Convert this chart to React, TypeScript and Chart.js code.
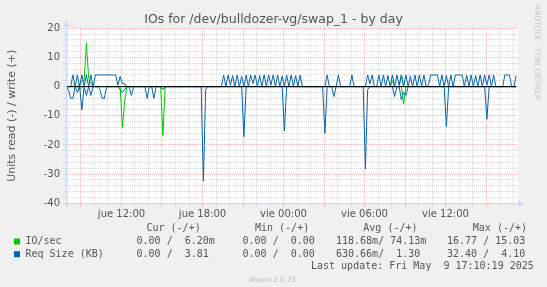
import React, { useEffect, useRef } from 'react';
import { Chart, registerables } from 'chart.js';

Chart.register(...registerables);

// ---- time grid (hours since jue 00:00), one sample every 10 minutes ----
const START_HOUR = 7.9;
const STEP_HOURS = 1 / 6;
const X_MIN = 7.889;
const X_MAX = 41.296;

// ---- series values (read drawn negative, write positive) ----
const IO_WRITE = [
  0, 0, 0, 0, 0, 0, 1, 2, 2, 15.03,
  3, 1, 0, 0, 0, 0, 0, 0, 0, 0,
  0, 0, 0, 0, 0, 0, 0, 0, 0, 0,
  0, 0, 0, 0, 0, 0, 0, 0, 0, 0,
  0, 0, 0, 0, 0, 0, 0, 0, 0, 0,
  0, 0, 0, 0, 0, 0, 0, 0, 0, 0,
  0, 0, 0, 0, 0, 0, 0, 0, 0, 0,
  0, 0, 0, 0, 0, 0, 0, 0, 0, 0,
  0, 0, 0, 0, 0, 0, 0, 0, 0, 0,
  0, 0, 0, 0, 0, 0, 0, 0, 0, 0,
  0, 0, 0, 0, 0, 0, 0, 0, 0, 0,
  0, 0, 0, 0, 0, 0, 0, 0, 0, 0,
  0, 0, 0, 0, 0, 0, 0, 0, 0, 0,
  0, 0, 0, 0, 0, 0, 0, 0, 0, 0,
  0, 0, 0, 0, 0, 2, 0, 0, 0, 4,
  0, 0, 0, 0, 0, 0, 0, 0, 0, 0,
  0, 0, 0, 0, 0, 0, 0, 0, 0, 0,
  0, 0, 0, 0, 0, 0, 0, 0, 0, 0,
  0, 0, 0, 0, 0, 0, 0, 0, 0, 0,
  0, 0, 0, 0, 0, 0, 0, 0, 0, 0,
  0,
];

const IO_READ = [
  0, 0, 0, 0, 0, 0, -1, 0, 0, 0,
  0, 0, 0, 0, 0, 0, 0, 0, 0, 0,
  0, 0, 0, 0, 0, -14, -5, 0, 0, 0,
  0, 0, 0, 0, 0, 0, 0, 0, 0, 0,
  0, 0, 0, -16.77, 0, 0, 0, 0, 0, 0,
  0, 0, 0, 0, 0, 0, 0, 0, 0, 0,
  0, 0, 0, 0, 0, 0, 0, 0, 0, 0,
  0, 0, 0, 0, 0, 0, 0, 0, 0, 0,
  0, 0, 0, 0, 0, 0, 0, 0, 0, 0,
  0, 0, 0, 0, 0, 0, 0, 0, 0, 0,
  0, 0, 0, 0, 0, 0, 0, 0, 0, 0,
  0, 0, 0, 0, 0, 0, 0, 0, 0, 0,
  0, 0, 0, 0, 0, 0, 0, 0, 0, 0,
  0, 0, 0, 0, 0, 0, 0, 0, 0, 0,
  0, 0, 0, 0, 0, 0, 0, 0, 0, 0,
  -6, 0, 0, 0, 0, 0, 0, 0, 0, 0,
  0, 0, 0, 0, 0, 0, 0, 0, 0, 0,
  0, 0, 0, 0, 0, 0, 0, 0, 0, 0,
  0, 0, 0, 0, 0, 0, 0, 0, 0, 0,
  0, 0, 0, 0, 0, 0, 0, 0, 0, 0,
  0,
];

const REQ_WRITE = [
  0, 0, 0, 4, 0, 4, 0, 4, 0, 4,
  0, 4, 0, 4, 4, 4, 4, 4, 4, 4,
  4, 4, 4, 0.5, 3.5, 1, 1, 0, 0, 0,
  0, 0, 0, 0, 0, 0, 0, 0, 0, 0,
  0, 0, 0, 0, 0, 0, 0, 0, 0, 0,
  0, 0, 0, 0, 0, 0, 0, 0, 0, 0,
  0, 0, 0, 0, 0, 0, 0, 0, 0, 0,
  4, 0, 4, 0.5, 3.8, 0, 4, 0, 3.5, 0,
  4, 0, 4, 1, 4, 0, 3.8, 0, 4, 0,
  4, 0.5, 4, 0, 4, 0, 3.6, 0, 4, 0,
  4, 0, 3.8, 0, 4, 0, 0, 0, 0, 0,
  0, 0, 0, 0, 0, 0, 4, 0, 0, 0,
  0, 4, 0, 0, 0, 0, 0, 4, 0, 0,
  0, 0, 0, 0, 4, 1, 4, 0, 0, 4,
  0, 4, 0, 3.8, 0, 4, 0, 4, 0.5, 4,
  0, 4, 0, 3.6, 0, 4, 0, 4, 0, 4,
  0, 0.5, 4, 4, 4, 4, 0, 4, 0, 3.8,
  0, 4, 0, 4, 4, 4, 4, 0, 4, 0,
  4, 0, 3.8, 0, 4, 0, 4, 0.5, 4, 0,
  4, 0, 0, 0, 0, 4, 4, 4, 0, 0,
  3.81,
];

const REQ_READ = [
  0, -1, -4, -4, 0, -2, 0, -8, 0, -3,
  0, -3, 0, 0, 0, -1, -4, -4, 0, 0,
  0, 0, 0, 0, -1, -2, -1, 0, 0, -3,
  0, 0, 0, 0, 0, 0, -4, 0, 0, -4,
  0, 0, 0, -1, 0, 0, 0, 0, 0, 0,
  0, 0, 0, 0, 0, 0, 0, 0, 0, 0,
  0, -32.4, -1, 0, 0, 0, 0, 0, 0, 0,
  0, 0, 0, 0, 0, 0, 0, 0, 0, -17.2,
  0, 0, 0, 0, 0, 0, 0, 0, 0, 0,
  0, 0, 0, 0, 0, 0, 0, -15.2, 0, 0,
  0, 0, 0, 0, 0, 0, 0, 0, 0, 0,
  0, 0, 0, 0, 0, -16, 0, 0, 0, -3.4,
  0, 0, 0, 0, 0, 0, 0, 0, 0, 0,
  0, 0, 0, -28.2, -1, 0, 0, 0, 0, 0,
  0, 0, 0, 0, 0, 0, -3.4, 0, 0, -4.5,
  -2, -3, 0, 0, 0, 0, 0, 0, 0, 0,
  0, 0, 0, 0, 0, 0, 0, 0, 0, -13.7,
  0, 0, 0, 0, 0, 0, 0, 0, 0, 0,
  0, 0, 0, 0, 0, 0, 0, -11.2, 0, 0,
  0, 0, 0, 0, 0, 0, 0, 0, 0, 0,
  0,
];

// ---- axes ----
const HOUR_TICKS = [8, 9, 10, 11, 12, 13, 14, 15, 16, 17, 18, 19, 20, 21, 22, 23, 24, 25, 26, 27, 28, 29, 30, 31, 32, 33, 34, 35, 36, 37, 38, 39, 40, 41];
const LABEL_HOURS = [12, 18, 24, 30, 36];
const LABEL_TEXTS = ['jue 12:00', 'jue 18:00', 'vie 00:00', 'vie 06:00', 'vie 12:00'];
const Y_MIN = -40;
const Y_MAX = 20;
const Y_STEP = 2;
const Y_LABEL_STEP = 10;

// ---- texts ----
const TITLE = 'IOs for /dev/bulldozer-vg/swap_1 - by day';
const Y_TITLE = 'Units read (-) / write (+)';
const LEGEND_HEADERS = ['Cur (-/+)', 'Min (-/+)', 'Avg (-/+)', 'Max (-/+)'];
const SERIES_NAMES = ['IO/sec', 'Req Size (KB)'];
const IO_STATS = ['  0.00 /  6.20m', '  0.00 /  0.00', '118.68m/ 74.13m', ' 16.77 / 15.03'];
const REQ_STATS = ['  0.00 /  3.81', '  0.00 /  0.00', '630.66m/  1.30', ' 32.40 /  4.10'];
const LAST_UPDATE = 'Last update: Fri May  9 17:10:19 2025';
const FOOTER = 'Munin 2.0.73';
const WATERMARK = 'RRDTOOL / TOBI OETIKER';

const GREEN = '#00cc00';
const BLUE = '#0066b3';
const AXIS = '#cfd6f8';
const MINOR = 'rgba(150,150,150,0.38)';
const MAJOR = 'rgba(235,110,110,0.5)';
const FONT_COLOR = '#555555';

function toPoints(values: number[]) {
  return values.map((v, i) => ({ x: START_HOUR + i * STEP_HOURS, y: v }));
}

const decorPlugin = {
  id: 'muninDecor',
  beforeDraw(chart: any) {
    const { ctx, chartArea: a, width, height } = chart;
    ctx.save();
    ctx.fillStyle = '#f0f0f0';
    ctx.fillRect(0, 0, width, height);
    ctx.fillStyle = '#ffffff';
    ctx.fillRect(a.left, a.top, a.right - a.left + 1, a.bottom - a.top);
    ctx.restore();
  },
  afterDraw(chart: any) {
    const { ctx, chartArea: a } = chart;
    ctx.save();
    // axes with arrows
    ctx.strokeStyle = AXIS;
    ctx.fillStyle = AXIS;
    ctx.lineWidth = 1;
    ctx.beginPath();
    ctx.moveTo(Math.round(a.left) + 0.5, a.bottom + 3);
    ctx.lineTo(Math.round(a.left) + 0.5, a.top - 5);
    ctx.moveTo(a.left - 3, Math.round(a.bottom) + 0.5);
    ctx.lineTo(a.right + 3, Math.round(a.bottom) + 0.5);
    ctx.stroke();
    const ax = Math.round(a.left) + 0.5;
    ctx.beginPath();
    ctx.moveTo(ax, a.top - 8);
    ctx.lineTo(ax - 3, a.top - 2);
    ctx.lineTo(ax + 3, a.top - 2);
    ctx.closePath();
    ctx.fill();
    const ay = Math.round(a.bottom) + 0.5;
    ctx.beginPath();
    ctx.moveTo(a.right + 7, ay);
    ctx.lineTo(a.right + 1, ay - 3);
    ctx.lineTo(a.right + 1, ay + 3);
    ctx.closePath();
    ctx.fill();

    // title
    ctx.fillStyle = FONT_COLOR;
    ctx.font = '12.5px "DejaVu Sans"';
    ctx.textAlign = 'center';
    ctx.textBaseline = 'alphabetic';
    ctx.fillText(TITLE, 273.5, 23);

    // y axis title
    ctx.save();
    ctx.translate(14.5, (a.top + a.bottom) / 2);
    ctx.rotate(-Math.PI / 2);
    ctx.font = '11px "DejaVu Sans"';
    ctx.textAlign = 'center';
    ctx.fillText(Y_TITLE, 0, 0);
    ctx.restore();

    // watermark
    ctx.save();
    ctx.translate(535, 5);
    ctx.rotate(Math.PI / 2);
    ctx.font = '7.4px "DejaVu Sans"';
    ctx.fillStyle = '#c4c4c4';
    ctx.textAlign = 'left';
    ctx.fillText(WATERMARK, 0, 0);
    ctx.restore();

    // legend table
    ctx.font = '10px "DejaVu Sans Mono"';
    ctx.textAlign = 'left';
    ctx.textBaseline = 'middle';
    ctx.fillStyle = FONT_COLOR;
    const headerX = [146.5, 255, 363.3, 472.8];
    const statX = [124.5, 230.5, 336, 441];
    LEGEND_HEADERS.forEach((h, k) => ctx.fillText(h, headerX[k], 228.6));
    const rows = [IO_STATS, REQ_STATS];
    const colors = [GREEN, BLUE];
    const rowY = [241.5, 254.2];
    rows.forEach((stats, r) => {
      ctx.fillStyle = colors[r];
      ctx.fillRect(14, rowY[r] - 3, 6, 6);
      ctx.fillStyle = FONT_COLOR;
      ctx.fillText(SERIES_NAMES[r], 25.5, rowY[r]);
      stats.forEach((s, k) => ctx.fillText(s, statX[k], rowY[r]));
    });
    ctx.fillText(LAST_UPDATE, 311, 266.3);

    // footer
    ctx.font = '7px "DejaVu Sans"';
    ctx.fillStyle = '#bbbbbb';
    ctx.textAlign = 'center';
    ctx.fillText(FOOTER, 272.7, 280);
    ctx.restore();
  },
};

export default function App() {
  const canvasRef = useRef<HTMLCanvasElement | null>(null);

  useEffect(() => {
    const canvas = canvasRef.current;
    if (!canvas) return;
    const zeroLine = [
      { x: START_HOUR, y: 0 },
      { x: START_HOUR + (REQ_WRITE.length - 1) * STEP_HOURS, y: 0 },
    ];
    const chart = new Chart(canvas, {
      type: 'line',
      data: {
        datasets: [
          { label: 'zero', data: zeroLine, borderColor: '#000000', order: -1 },
          { label: 'Req Size read', data: toPoints(REQ_READ), borderColor: BLUE, order: 0 },
          { label: 'Req Size write', data: toPoints(REQ_WRITE), borderColor: BLUE, order: 0 },
          { label: 'IO/sec read', data: toPoints(IO_READ), borderColor: GREEN, order: 1 },
          { label: 'IO/sec write', data: toPoints(IO_WRITE), borderColor: GREEN, order: 1 },
        ],
      },
      options: {
        animation: false,
        responsive: false,
        devicePixelRatio: 1,
        events: [],
        layout: { padding: { left: 0, right: 30, top: 28.3, bottom: 0 } },
        elements: {
          line: { tension: 0, borderWidth: 1, fill: false },
          point: { radius: 0 },
        },
        plugins: {
          legend: { display: false },
          title: { display: false },
          tooltip: { enabled: false },
        },
        scales: {
          x: {
            type: 'linear',
            min: X_MIN,
            max: X_MAX,
            afterFit: (s: any) => { s.height = 83.7; },
            afterBuildTicks: (s: any) => { s.ticks = HOUR_TICKS.map((v) => ({ value: v })); },
            border: { display: false, dash: [1, 1] },
            grid: {
              color: (c: any) => (c.tick && c.tick.value % 3 === 0 ? MAJOR : MINOR),
              tickColor: (c: any) => (c.tick && c.tick.value % 3 === 0 ? MAJOR : AXIS),
              tickLength: 3,
              lineWidth: 1,
            },
            ticks: {
              autoSkip: false,
              maxRotation: 0,
              padding: 2,
              color: FONT_COLOR,
              font: { family: 'DejaVu Sans', size: 10 },
              callback: (v: any) => {
                const k = LABEL_HOURS.indexOf(Number(v));
                return k >= 0 ? LABEL_TEXTS[k] : '';
              },
            },
          },
          y: {
            type: 'linear',
            min: Y_MIN,
            max: Y_MAX,
            afterFit: (s: any) => { s.width = 66; },
            border: { display: false, dash: [1, 1] },
            grid: {
              color: (c: any) => (c.tick && c.tick.value % Y_LABEL_STEP === 0 ? MAJOR : MINOR),
              tickColor: AXIS,
              tickLength: 3,
              lineWidth: 1,
            },
            ticks: {
              stepSize: Y_STEP,
              autoSkip: false,
              padding: 3,
              color: FONT_COLOR,
              font: { family: 'DejaVu Sans', size: 10 },
              callback: (v: any) => (Number(v) % Y_LABEL_STEP === 0 ? String(v) : ''),
            },
          },
        },
      },
      plugins: [decorPlugin],
    } as any);
    return () => chart.destroy();
  }, []);

  return (
    <div style={{ position: 'fixed', left: 0, top: 0, width: 547, height: 287, background: '#f0f0f0' }}>
      <canvas ref={canvasRef} width={547} height={287} style={{ display: 'block', width: 547, height: 287 }} />
    </div>
  );
}
